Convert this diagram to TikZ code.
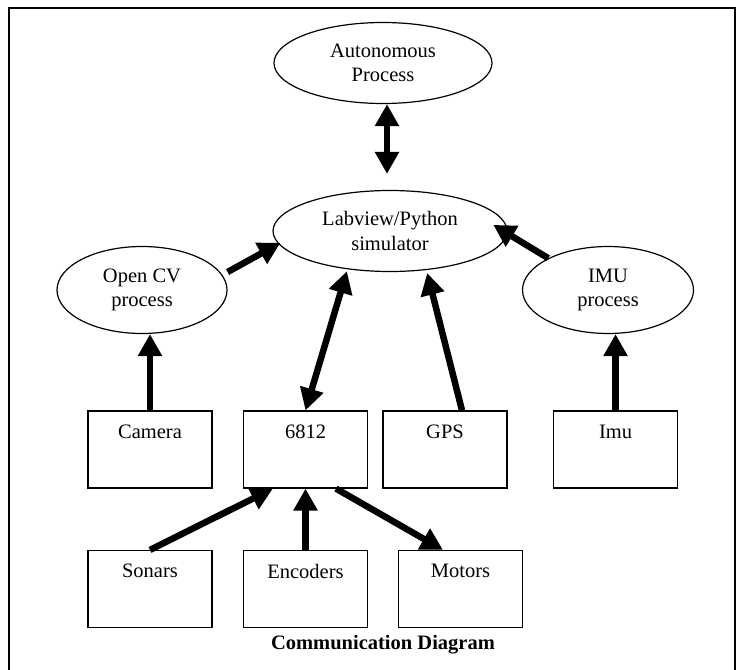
\documentclass[tikz,border=0pt]{standalone}
\usepackage{fontspec}
\setmainfont{Liberation Serif}
\usetikzlibrary{arrows.meta, shapes.geometric}

\begin{document}
\begin{tikzpicture}[x=1pt, y=-1pt, font=\fontsize{20.5}{24.5}\selectfont,
    proc/.style={draw, ellipse, line width=1.2pt, inner sep=0pt, align=center},
    unit/.style={draw, rectangle, line width=1.2pt, minimum width=124pt, minimum height=77pt,
      label={[anchor=north, inner sep=0pt, yshift=-14pt]north:#1}},
    flow/.style={line width=6.5pt, -{Triangle[length=22pt, width=23pt]}},
    both/.style={line width=6.5pt, {Triangle[length=22pt, width=23pt]}-{Triangle[length=22pt, width=23pt]}}]
    \useasboundingbox (0,0) rectangle (743,669);
    \draw[line width=2pt] (9,690) -- (9,8) -- (735,8) -- (735,690);

    \node[proc, minimum width=218pt, minimum height=81pt] (auto) at (383,63) {Autonomous\\Process};
    \node[proc, minimum width=234pt, minimum height=81pt] (sim) at (390,231) {Labview/Python\\simulator};
    \node[proc, minimum width=170pt, minimum height=87pt] (ocv) at (142,290) {Open CV\\process};
    \node[proc, minimum width=171pt, minimum height=87pt] (imup) at (608,290) {IMU\\process};

    \node[unit=Camera] (cam) at (150,449.5) {};
    \node[unit=6812] (hc) at (305.5,449.5) {};
    \node[unit=GPS] (gps) at (445,449.5) {};
    \node[unit=Imu] (imu) at (615.5,449.5) {};
    \node[unit=Sonars] (son) at (150,589) {};
    \node[unit=Encoders] (enc) at (305.5,589) {};
    \node[unit=Motors] (mot) at (460.5,589) {};

    \node[font=\fontsize{20.5}{24.5}\selectfont\bfseries] (cap) at (383,645) {Communication Diagram};

    \draw[both, shorten >=16pt] ([xshift=4pt]auto.south) -- ([xshift=-3pt]sim.north);
    \draw[flow] ([yshift=18pt]ocv.east) -- ([xshift=3pt]sim.186);
    \draw[flow] (imup.152) -- ([xshift=-13pt]sim.3);
    \draw[both, shorten >=2pt] (hc.north) -- (sim.222);
    \draw[flow, shorten >=3pt] ([xshift=17pt]gps.north) -- (sim.313);
    \draw[flow] (cam.north) -- (cam.north |- ocv.south);
    \draw[flow] (imu.north) -- (imu.north |- imup.south);
    \draw[flow] (son.north) -- ([xshift=30pt]hc.south west);
    \draw[flow] (enc.north) -- (hc.south);
    \draw[flow] ([xshift=30.5pt]hc.south) -- ([xshift=-17.5pt]mot.north);
\end{tikzpicture}
\end{document}
